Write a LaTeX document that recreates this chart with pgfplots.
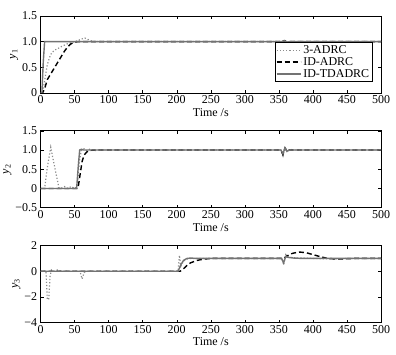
\documentclass[border=0pt]{standalone}
\usepackage{fontspec}
\setmainfont{Liberation Serif}
\usepackage{pgfplots}
\pgfplotsset{compat=1.18}
\definecolor{solidgray}{gray}{0.45}
\definecolor{dotgray}{gray}{0.55}
\begin{document}
\begin{tikzpicture}
\pgfplotsset{
  every axis/.append style={
    scale only axis, width=341pt, height=77pt,
    xmin=0, xmax=500,
    /pgf/number format/assume math mode=true,
    xtick={0,50,...,500},
    xticklabels={0,50,100,150,200,250,300,350,400,450,500},
    tick label style={font=\fontsize{12}{13}\selectfont},
    label style={font=\fontsize{12}{13}\selectfont},
    xlabel={Time /s},
    xlabel style={yshift=2pt},
    ylabel style={yshift=-3pt},
    xticklabel style={yshift=1pt},
    tick align=inside,
    major tick length=3pt,
    axis line style={line width=0.7pt},
    every tick/.style={black, line width=0.4pt},
  },
  s3/.style={dotgray, dotted, line width=1.2pt},
  sid/.style={black, line width=1.4pt, dash pattern=on 5pt off 3pt},
  std/.style={solidgray, line width=1.4pt},
}
% ---------- panel 1 ----------
\begin{axis}[at={(0,0)}, anchor=south west,
  ymin=0, ymax=1.5, ytick={0,0.5,1,1.5}, yticklabels={0,0.5,1.0,1.5},
  ylabel={\textit{y}\textsubscript{1}},
  legend style={at={(0.975,0.14)}, anchor=south east, draw=black, line width=0.7pt,
    font=\fontsize{12}{12}\selectfont, inner sep=1pt, row sep=-1.5pt,
    cells={anchor=west}},
  legend image code/.code={\draw[#1] (0pt,0pt) -- (24pt,0pt);},
]
\addplot[s3] coordinates {(0,0)(3,0)(5,0.15)(8,0.4)(10,0.55)(13,0.68)(15,0.75)(20,0.83)(25,0.86)(30,0.9)(35,0.93)(40,0.96)(45,0.98)(50,1.0)(55,1.02)(60,1.05)(65,1.07)(70,1.04)(75,1.01)(80,1.0)(355,1.0)(358,1.03)(362,0.99)(366,1.0)(500,1.0)};
\addlegendentry{3-ADRC}
\addplot[sid] coordinates {(0,0)(3,0)(6,0.08)(10,0.26)(15,0.37)(20,0.48)(25,0.59)(30,0.7)(35,0.81)(40,0.9)(44,0.95)(48,0.98)(55,1.0)(355,1.0)(358,1.02)(362,0.99)(366,1.0)(500,1.0)};
\addlegendentry{ID-ADRC}
\addplot[std] coordinates {(0,0)(2,0)(4,0.6)(6,1.0)(355,1.0)(358,1.02)(362,0.99)(366,1.0)(500,1.0)};
\addlegendentry{ID-TDADRC}
\end{axis}
% ---------- panel 2 ----------
\begin{axis}[at={(0,-115pt)}, anchor=south west,
  ymin=-0.5, ymax=1.5, ytick={-0.5,0,0.5,1,1.5}, yticklabels={−0.5,0,0.5,1.0,1.5},
  ylabel={\textit{y}\textsubscript{2}},
]
\addplot[s3] coordinates {(0,0)(6,0)(10,0.55)(15,1.07)(18,0.8)(22,0.45)(27,0.02)(30,0)(35,0.05)(40,0)(45,0.05)(50,0)(54,0.05)(57,0.7)(60,1.0)(64,1.03)(68,0.98)(72,1.02)(78,0.98)(85,1.0)(353,1.0)(356,0.85)(359,1.07)(362,0.96)(366,1.02)(372,1.0)(500,1.0)};
\addplot[sid] coordinates {(0,0)(55,0)(58,0.35)(61,0.7)(64,0.87)(68,0.95)(72,0.99)(80,1.0)(353,1.0)(356,0.88)(359,1.05)(362,0.97)(366,1.0)(500,1.0)};
\addplot[std] coordinates {(0,0)(53,0)(55.5,0.6)(57.5,1.0)(60,1.02)(63,1.0)(353,1.0)(356,0.9)(359,1.06)(362,0.97)(366,1.0)(500,1.0)};
\end{axis}
% ---------- panel 3 ----------
\begin{axis}[at={(0,-230pt)}, anchor=south west,
  ymin=-4, ymax=2, ytick={-4,-2,0,2}, yticklabels={−4,−2,0,2},
  ylabel={\textit{y}\textsubscript{3}},
]
\addplot[s3] coordinates {(0,0)(8,0)(10,-2.2)(12,-2.2)(14,-0.4)(16,0.1)(20,0)(25,0.1)(30,0)(58,0)(61,-0.6)(64,-0.1)(67,0)(202,0)(204,1.25)(206,0.4)(210,0.8)(215,0.95)(220,1.0)(354,1.0)(357,0.5)(360,1.3)(364,1.1)(375,1.05)(400,1.0)(430,0.95)(450,1.0)(500,1.0)};
\addplot[sid] coordinates {(0,0)(205,0)(210,0.2)(215,0.45)(220,0.65)(230,0.85)(240,0.95)(250,1.0)(357,1.0)(362,1.2)(370,1.4)(380,1.5)(390,1.45)(400,1.3)(410,1.15)(420,1.02)(430,0.97)(440,0.96)(460,1.0)(500,1.0)};
\addplot[std] coordinates {(0,0)(202,0)(206,0.5)(210,0.85)(215,1.0)(220,1.03)(230,1.0)(354,1.0)(357,0.65)(360,1.15)(364,1.08)(372,1.03)(385,1.0)(500,1.0)};
\end{axis}
\path (-40pt,93pt) rectangle (356pt,-262pt);
\end{tikzpicture}
\end{document}
